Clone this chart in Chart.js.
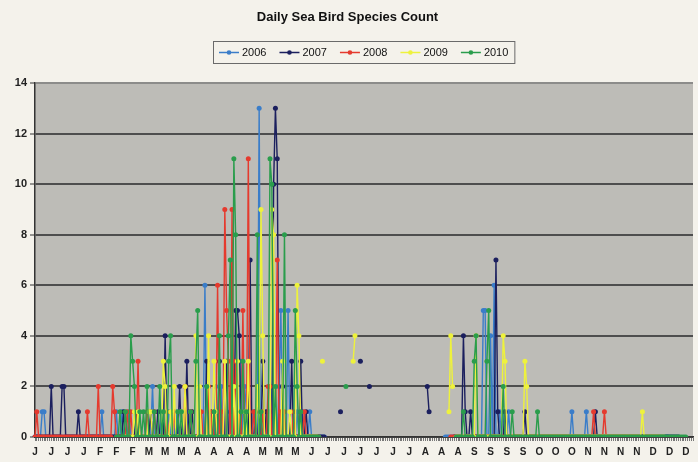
<!DOCTYPE html>
<html>
<head>
<meta charset="utf-8">
<title>Daily Sea Bird Species Count</title>
<script src="https://cdn.jsdelivr.net/npm/chart.js@4.4.1/dist/chart.umd.min.js"></script>
<style>
  html, body { margin: 0; padding: 0; background: #f4f2eb; }
  #wrap { width: 698px; height: 462px; }
</style>
</head>
<body>
<div id="wrap"><canvas id="birdChart" width="698" height="462"></canvas></div>
<script>
const monthNames = ['Jan', 'Feb', 'Mar', 'Apr', 'May', 'Jun', 'Jul', 'Aug', 'Sep', 'Oct', 'Nov', 'Dec'];
const monthDays = [31, 28, 31, 30, 31, 30, 31, 31, 30, 31, 30, 31];
// every 9th day gets a label
const tickLabels = ['J','J','J','J','F','F','F','M','M','M','A','A','A','A','M','M','M','J','J','J','J',
                    'J','J','J','A','A','A','S','S','S','S','O','O','O','N','N','N','N','D','D','D'];
const tickEvery = 9;

const seriesNames = ['2006', '2007', '2008', '2009', '2010'];
const seriesColors = ['#3a7dc9', '#1b1f5e', '#e53a2e', '#eef23c', '#2a9d4c'];

// one string per month, one char per day: '.' = no count, 0-9, a=10, b=11, c=12, d=13
const counts2006 = [
    '00001 10000 00000 00000 00000 00000 0',
    '00000 01000 00001 00100 01000 000',
    '00000 02000 01000 10001 00100 01000 0',
    '00006 00100 20020 00010 00003 02100',
    '0100d 00010 12000 25000 50000 10010 0',
    '01000 00000 ..... ..... ..... .....',
    '..... ..... ..... ..... ..... ..... .',
    '..... ..... ..... 00000 00000 00000 0',
    '00000 55004 06001 01001 00000 00000',
    '00000 00000 00000 00000 00001 00000 0',
    '01000 00000 00000 00000 00000 00000',
    '00000 00000 00000 00... ..... ..... .'
];
const counts2007 = [
    '00000 00002 00000 22000 00001 00000 0',
    '00000 00000 00000 00010 00000 100',
    '00000 10001 00040 00000 02000 30010 0',
    '00000 30010 00300 03000 05540 01007',
    '00100 03010 00adb 00200 00300 00300 1',
    '00000 00000 ..... ...1. ..... ....3',
    '....2 ..... ..... ..... ..... ..... .',
    '..... 21... ..... ..... 00000 41001 0',
    '00000 00000 00710 00100 00000 00010',
    '00000 00000 00000 00000 00000 00000 0',
    '00000 01000 00000 00000 00000 00000',
    '00000 00000 00000 00000 000.. ..... .'
];
const counts2008 = [
    '01000 00000 00000 00000 00000 00001 0',
    '00002 00000 00210 00000 10100 030',
    '00010 00100 00001 00010 00002 00100 0',
    '01100 02010 06010 95309 03010 500b0',
    '01000 01002 20007 01010 00010 00001 0',
    '00000 00... ..... ..... ..... .....',
    '..... ..... ..... ..... ..... ..... .',
    '..... ..... ..... ...00 00000 00000 0',
    '00000 00000 00000 00000 00000 00000',
    '00000 00000 00000 00000 00000 00000 0',
    '00000 10000 01000 00000 00000 00000',
    '00000 00000 00... ..... ..... ..... .'
];
const counts2009 = [
    '..... ..... ..... ..... ..... ..... .',
    '..... ..... ..... ....0 00001 010',
    '00001 10000 00320 01020 00102 00000 4',
    '02000 04003 10000 30000 20300 01030',
    '00020 94000 09800 00300 01000 64000 0',
    '00000 0..3. ..... ..... ..... 34...',
    '..... ..... ..... ..... ..... ..... .',
    '..... ..... ..... ..142 .0000 00000 0',
    '04000 00000 00000 04300 00000 00032',
    '00000 00000 00000 00000 00000 00000 0',
    '00000 00000 00000 00000 00000 00000',
    '00100 00000 00000 ..... ..... ..... .'
];
const counts2010 = [
    '..... ..... ..... ..... ..... ..... .',
    '..... ..... ....0 01001 00432 001',
    '01020 00100 20100 34000 10100 00100 3',
    '50000 20001 00400 00470 b8001 30100',
    '00080 10000 ba020 00080 00005 20100 0',
    '00000 00... ..... ..... .2... .....',
    '..... ..... ..... ..... ..... ..... .',
    '..... ..... ..... ..... .0000 10000 0',
    '34000 00350 00000 02000 01000 00000',
    '00000 10000 00000 00000 00000 00000 0',
    '00000 00000 00000 00000 00000 00000',
    '00000 00000 00000 00000 00000 00... .'
];

function decode(months) {
    const out = [];
    months.forEach((m, i) => {
        const s = m.replace(/ /g, '');
        if (s.length !== monthDays[i]) console.warn('month', i, 'has', s.length, 'days');
        for (const ch of s) out.push(ch === '.' ? null : parseInt(ch, 36));
    });
    return out;
}

const days = [];
monthDays.forEach((n, m) => {
    for (let d = 1; d <= n; d++) days.push(monthNames[m] + ' ' + d);
});

const allCounts = [counts2006, counts2007, counts2008, counts2009, counts2010];
const fontFamily = '"Liberation Sans", Arial, sans-serif';

// page + plot backgrounds
const backdrop = {
    id: 'backdrop',
    beforeDraw(chart) {
        const {ctx, chartArea: a} = chart;
        ctx.save();
        ctx.fillStyle = '#f4f2eb';
        ctx.fillRect(0, 0, chart.width, chart.height);
        ctx.fillStyle = '#bdbcb7';
        ctx.fillRect(a.left, a.top, a.right - a.left, a.bottom - a.top);
        ctx.restore();
    }
};

// excel style legend: line + marker, boxed
const boxedLegend = {
    id: 'boxedLegend',
    afterDraw(chart) {
        const ctx = chart.ctx;
        const sets = chart.data.datasets;
        ctx.save();
        ctx.font = '11px ' + fontFamily;
        const lineLen = 20, gap = 13, pad = 6;
        const itemW = sets.map(d => lineLen + 3 + ctx.measureText(d.label).width);
        const total = itemW.reduce((a, b) => a + b, 0) + gap * (sets.length - 1) + pad * 2;
        let x = Math.round((chart.width - total) / 2) + 15;
        const top = 41, h = 22;
        ctx.strokeStyle = '#6a6a6a';
        ctx.lineWidth = 1;
        ctx.strokeRect(x + 0.5, top + 0.5, total, h);
        x += pad;
        const cy = top + h / 2 + 0.5;
        sets.forEach((d, i) => {
            ctx.strokeStyle = d.borderColor;
            ctx.lineWidth = 1.5;
            ctx.beginPath();
            ctx.moveTo(x, cy);
            ctx.lineTo(x + lineLen, cy);
            ctx.stroke();
            ctx.fillStyle = d.borderColor;
            ctx.beginPath();
            ctx.arc(x + lineLen / 2, cy, 2.3, 0, Math.PI * 2);
            ctx.fill();
            ctx.fillStyle = '#111';
            ctx.textBaseline = 'middle';
            ctx.fillText(d.label, x + lineLen + 3, cy);
            x += itemW[i] + gap;
        });
        ctx.restore();
    }
};

const ctx = document.getElementById('birdChart').getContext('2d');
new Chart(ctx, {
    type: 'line',
    data: {
        labels: days,
        datasets: seriesNames.map((name, i) => ({
            label: name,
            data: decode(allCounts[i]),
            borderColor: seriesColors[i],
            backgroundColor: seriesColors[i],
            pointBackgroundColor: seriesColors[i],
            pointBorderWidth: 0,
            pointRadius: 2.5,
            borderWidth: 1.4,
            tension: 0,
            spanGaps: false,
            order: seriesNames.length - 1 - i
        }))
    },
    options: {
        responsive: false,
        animation: false,
        layout: { padding: { top: 0, left: 0, right: 3, bottom: 0 } },
        plugins: {
            legend: { display: false },
            tooltip: { enabled: false },
            title: {
                display: true,
                text: 'Daily Sea Bird Species Count',
                color: '#111',
                font: { family: fontFamily, size: 13, weight: 'bold' },
                padding: { top: 10, bottom: 57.4 }
            }
        },
        scales: {
            x: {
                offset: false,
                afterFit: (scale) => { scale.height = 25; },
                border: { color: '#333', width: 1.5 },
                grid: { display: true, drawOnChartArea: false, drawTicks: true, tickLength: 4, color: '#777', lineWidth: 1 },
                ticks: {
                    autoSkip: false,
                    maxRotation: 0,
                    padding: 5,
                    color: '#222',
                    font: { family: fontFamily, size: 10, weight: 'bold' },
                    callback: (val, i) => (i % tickEvery === 0 ? tickLabels[i / tickEvery] : '')
                }
            },
            y: {
                min: 0,
                max: 14,
                afterFit: (scale) => { scale.width = 35; },
                border: { color: '#333', width: 1.5 },
                grid: {
                    color: (c) => (c.tick && c.tick.value === 14 ? '#8c8c8a' : '#4e4e4e'),
                    lineWidth: 2,
                    tickLength: 5,
                    tickColor: '#333',
                    tickWidth: 1
                },
                ticks: {
                    stepSize: 2,
                    padding: 3,
                    color: '#222',
                    font: { family: fontFamily, size: 11, weight: 'bold' }
                }
            }
        }
    },
    plugins: [backdrop, boxedLegend]
});
</script>
</body>
</html>
